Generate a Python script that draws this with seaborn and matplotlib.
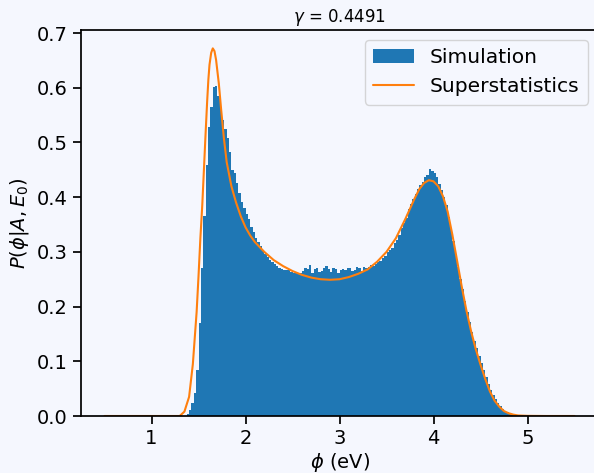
import numpy as np
import pandas as pd
import matplotlib
matplotlib.use("Agg")
import matplotlib.pyplot as plt
import seaborn as sns

# histogram of the simulation, bins of 0.025 eV starting at 1.375 eV
bin_start = 1.375
bin_width = 0.025
sim_density = [
    0.004, 0.011, 0.024, 0.042, 0.084, 0.170, 0.270, 0.366, 0.459, 0.528,
    0.564, 0.601, 0.603, 0.585, 0.563, 0.541, 0.525, 0.508, 0.483, 0.450,
    0.444, 0.426, 0.408, 0.392, 0.380, 0.370, 0.360, 0.345, 0.336, 0.325,
    0.318, 0.310, 0.303, 0.296, 0.290, 0.285, 0.281, 0.277, 0.274, 0.271,
    0.269, 0.267, 0.266, 0.269, 0.264, 0.262, 0.263, 0.261, 0.262, 0.265,
    0.270, 0.268, 0.276, 0.262, 0.268, 0.270, 0.264, 0.265, 0.270, 0.274,
    0.269, 0.264, 0.271, 0.268, 0.261, 0.267, 0.269, 0.267, 0.270, 0.270,
    0.265, 0.266, 0.272, 0.270, 0.265, 0.272, 0.270, 0.273, 0.276, 0.275,
    0.278, 0.282, 0.283, 0.288, 0.292, 0.300, 0.303, 0.308, 0.316, 0.322,
    0.330, 0.343, 0.352, 0.362, 0.378, 0.388, 0.396, 0.406, 0.415, 0.422,
    0.428, 0.437, 0.440, 0.451, 0.447, 0.444, 0.436, 0.425, 0.414, 0.400,
    0.386, 0.364, 0.343, 0.320, 0.297, 0.273, 0.250, 0.232, 0.210, 0.190,
    0.171, 0.153, 0.137, 0.125, 0.110, 0.097, 0.084, 0.071, 0.059, 0.048,
    0.039, 0.031, 0.024, 0.018, 0.013, 0.010, 0.007, 0.005, 0.004, 0.003,
    0.002, 0.0013, 0.0008, 0.0005, 0.0003,
]

# superstatistics prediction
phi_curve = [
    0.5, 0.8, 1.0, 1.2, 1.3, 1.35, 1.4, 1.44, 1.48, 1.5, 1.52, 1.54, 1.556,
    1.574, 1.592, 1.605, 1.617, 1.635, 1.652, 1.67, 1.687, 1.716, 1.74,
    1.77, 1.8, 1.85, 1.9, 1.95, 2.0, 2.05, 2.1, 2.2, 2.3, 2.4, 2.5, 2.6,
    2.7, 2.8, 2.9, 3.0, 3.1, 3.2, 3.3, 3.4, 3.5, 3.6, 3.7, 3.8, 3.85, 3.9,
    3.95, 4.0, 4.05, 4.1, 4.15, 4.2, 4.25, 4.3, 4.35, 4.4, 4.45, 4.5, 4.55,
    4.6, 4.65, 4.7, 4.75, 4.8, 4.85, 4.9, 5.0, 5.2, 5.5,
]
p_curve = [
    0.0, 0.0, 0.0, 0.0, 0.0, 0.008, 0.035, 0.095, 0.19, 0.255, 0.325, 0.385,
    0.444, 0.511, 0.575, 0.615, 0.642, 0.664, 0.672, 0.667, 0.651, 0.608,
    0.562, 0.508, 0.464, 0.420, 0.390, 0.365, 0.345, 0.330, 0.318, 0.300,
    0.285, 0.274, 0.265, 0.258, 0.253, 0.250, 0.249, 0.250, 0.254, 0.260,
    0.268, 0.282, 0.300, 0.325, 0.360, 0.398, 0.415, 0.426, 0.431, 0.429,
    0.420, 0.402, 0.374, 0.332, 0.285, 0.237, 0.193, 0.155, 0.122, 0.094,
    0.068, 0.045, 0.028, 0.017, 0.009, 0.005, 0.0025, 0.001, 0.0003, 0.0,
    0.0,
]

gamma_text = r"$\gamma$ = 0.4491"
bg = "#f5f7fe"

sns.set_theme(style="ticks", rc={
    "figure.facecolor": bg,
    "axes.facecolor": bg,
    "savefig.facecolor": bg,
    "text.color": "black",
    "axes.labelcolor": "black",
    "axes.edgecolor": "black",
    "xtick.color": "black",
    "ytick.color": "black",
})
plt.rcParams["font.family"] = ["DejaVu Sans"]

fig = plt.figure(figsize=(5.94, 4.73), dpi=100)
ax = fig.add_axes([81 / 594, 57 / 473, 517 / 594, 386 / 473])

n_bins = len(sim_density)
centers = bin_start + bin_width * (np.arange(n_bins) + 0.5)
hist_df = pd.DataFrame({"phi": centers, "density": sim_density})
sns.histplot(data=hist_df, x="phi", weights="density", binwidth=bin_width,
             binrange=(bin_start, bin_start + n_bins * bin_width),
             stat="count", element="step", fill=True, color="#1f77b4",
             alpha=1, linewidth=0, label="Simulation", ax=ax)
sns.lineplot(x=phi_curve, y=p_curve, color="#ff7f0e", linewidth=1.5,
             label="Superstatistics", ax=ax)

ax.set_title(gamma_text, fontsize=12)
ax.set_xlabel(r"$\phi$ (eV)", fontsize=14, labelpad=2)
ax.set_ylabel(r"$P(\phi|A, E_0)$", fontsize=14)
ax.tick_params(labelsize=14)

handles, labels = ax.get_legend_handles_labels()
order = [labels.index("Simulation"), labels.index("Superstatistics")]
ax.legend([handles[i] for i in order], [labels[i] for i in order],
          loc="upper right", fontsize=14.6)

fig.savefig("out.png", dpi=100)
